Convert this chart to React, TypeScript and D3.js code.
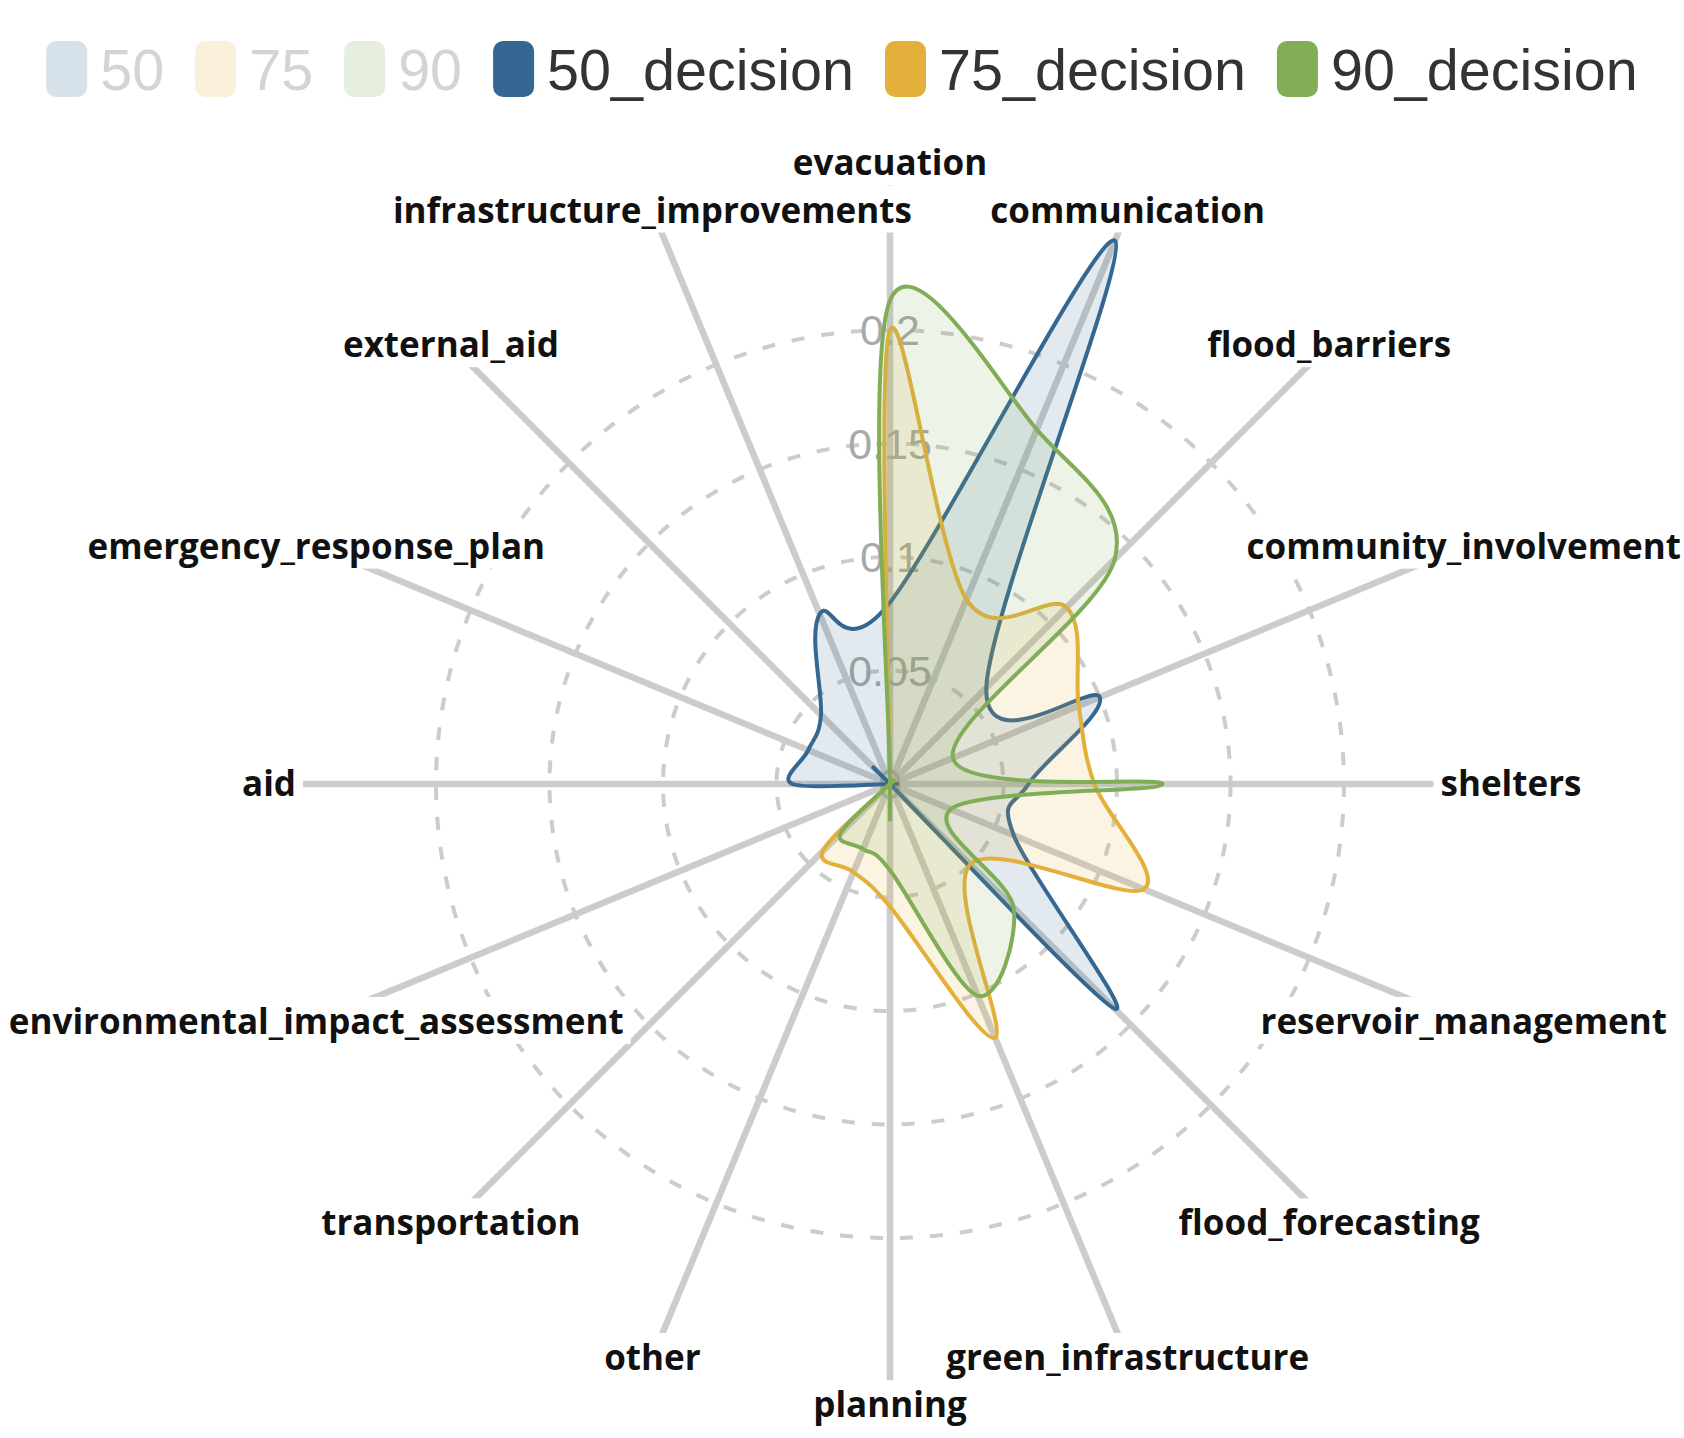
import { useEffect, useRef } from "react";
import * as d3 from "d3";

const WIDTH = 1684;
const HEIGHT = 1438;
const CENTER = { x: 890, y: 784 };
const RADIUS = 454; // radius of the 0.2 ring
const LABEL_RADIUS = 621;

const categories = [
  "evacuation",
  "communication",
  "flood_barriers",
  "community_involvement",
  "shelters",
  "reservoir_management",
  "flood_forecasting",
  "green_infrastructure",
  "planning",
  "other",
  "transportation",
  "environmental_impact_assessment",
  "aid",
  "emergency_response_plan",
  "external_aid",
  "infrastructure_improvements",
];

const decision50 = [0.08, 0.259, 0.06, 0.1, 0.061, 0.059, 0.14, 0, 0, 0, 0, 0, 0.043, 0.039, 0.043, 0.081];
const decision75 = [0.2, 0.088, 0.11, 0.09, 0.09, 0.121, 0.05, 0.121, 0.054, 0.042, 0.042, 0, 0, 0, 0, 0];
const decision90 = [0.213, 0.169, 0.14, 0.03, 0.12, 0.029, 0.077, 0.101, 0.038, 0.031, 0.031, 0, 0, 0, 0, 0];

const ringValues = [0.05, 0.1, 0.15, 0.2];
const tickLabels = [0, 0.05, 0.1, 0.15, 0.2];

const legendNames = ["50", "75", "90", "50_decision", "75_decision", "90_decision"];
const legendActive = [false, false, false, true, true, true];
const COLORS = ["#346792", "#e4b03c", "#80ad55"];

const series = [
  { name: "50_decision", color: COLORS[0], values: decision50 },
  { name: "75_decision", color: COLORS[1], values: decision75 },
  { name: "90_decision", color: COLORS[2], values: decision90 },
];

const rScale = d3.scaleLinear().domain([0, 0.2]).range([0, RADIUS]);
const angle = (i: number) => (i * 2 * Math.PI) / categories.length;

export default function App() {
  const legendRef = useRef<SVGGElement>(null);
  const labelsRef = useRef<SVGGElement>(null);

  const radialLine = d3
    .lineRadial<number>()
    .angle((_, i) => angle(i))
    .radius((d) => rScale(d))
    .curve(d3.curveCardinalClosed.tension(0));

  // legend built with d3 so text widths can be measured
  useEffect(() => {
    const g = d3.select(legendRef.current);
    g.selectAll("*").remove();
    let x = 0;
    legendNames.forEach((name, i) => {
      const item = g.append("g").attr("transform", `translate(${x},0)`);
      item
        .append("rect")
        .attr("x", 0)
        .attr("y", -28)
        .attr("width", 41)
        .attr("height", 56)
        .attr("rx", 10)
        .attr("fill", COLORS[i % 3])
        .attr("opacity", legendActive[i] ? 1 : 0.2);
      const t = item
        .append("text")
        .attr("x", 54)
        .attr("dy", "0.36em")
        .attr("font-family", "'Liberation Sans', Arial, sans-serif")
        .attr("font-size", 57.5)
        .attr("fill", legendActive[i] ? "#333" : "#d4d4d4")
        .text(name);
      const w = (t.node() as SVGTextElement).getComputedTextLength();
      x += 54 + w + 31;
    });
    const total = x - 31;
    g.attr("transform", `translate(${WIDTH / 2 - total / 2},69)`);
  }, []);

  // category names sit on white boxes that hide the axis line ends
  useEffect(() => {
    const g = d3.select(labelsRef.current);
    g.selectAll("*").remove();
    categories.forEach((c, i) => {
      const item = g
        .append("g")
        .attr(
          "transform",
          `translate(${Math.sin(angle(i)) * LABEL_RADIUS},${-Math.cos(angle(i)) * LABEL_RADIUS})`
        );
      const bg = item.append("rect").attr("fill", "#fff");
      const t = item
        .append("text")
        .attr("dy", "0.35em")
        .attr("text-anchor", "middle")
        .attr("font-family", "'Open Sans', sans-serif")
        .attr("font-weight", 700)
        .attr("font-size", 35)
        .attr("fill", "#111")
        .text(c);
      const b = (t.node() as SVGTextElement).getBBox();
      bg.attr("x", b.x - 7)
        .attr("y", b.y)
        .attr("width", b.width + 14)
        .attr("height", b.height);
    });
  }, []);

  return (
    <svg
      width={WIDTH}
      height={HEIGHT}
      style={{ position: "absolute", left: 0, top: 0, background: "#fff" }}
    >
      <g ref={legendRef} />
      <g transform={`translate(${CENTER.x},${CENTER.y})`}>
        {ringValues.map((v) => (
          <circle
            key={v}
            r={rScale(v)}
            fill="none"
            stroke="#cccccc"
            strokeWidth={4}
            strokeDasharray="13 17"
          />
        ))}
        {categories.map((c, i) => (
          <line
            key={c}
            x1={0}
            y1={0}
            x2={Math.sin(angle(i)) * LABEL_RADIUS}
            y2={-Math.cos(angle(i)) * LABEL_RADIUS}
            stroke="#cccccc"
            strokeWidth={6.5}
          />
        ))}
        {tickLabels.map((v) => (
          <text
            key={v}
            x={0}
            y={-rScale(v)}
            dy="0.36em"
            textAnchor="middle"
            fontFamily="'Liberation Sans', Arial, sans-serif"
            fontSize={43}
            fill="#a8a8a8"
          >
            {String(v)}
          </text>
        ))}
        {series.map((s) => (
          <path
            key={s.name}
            d={radialLine(s.values) ?? ""}
            fill={s.color}
            fillOpacity={0.14}
            stroke={s.color}
            strokeWidth={4}
            strokeLinejoin="round"
          />
        ))}
        <g ref={labelsRef} />
      </g>
    </svg>
  );
}
